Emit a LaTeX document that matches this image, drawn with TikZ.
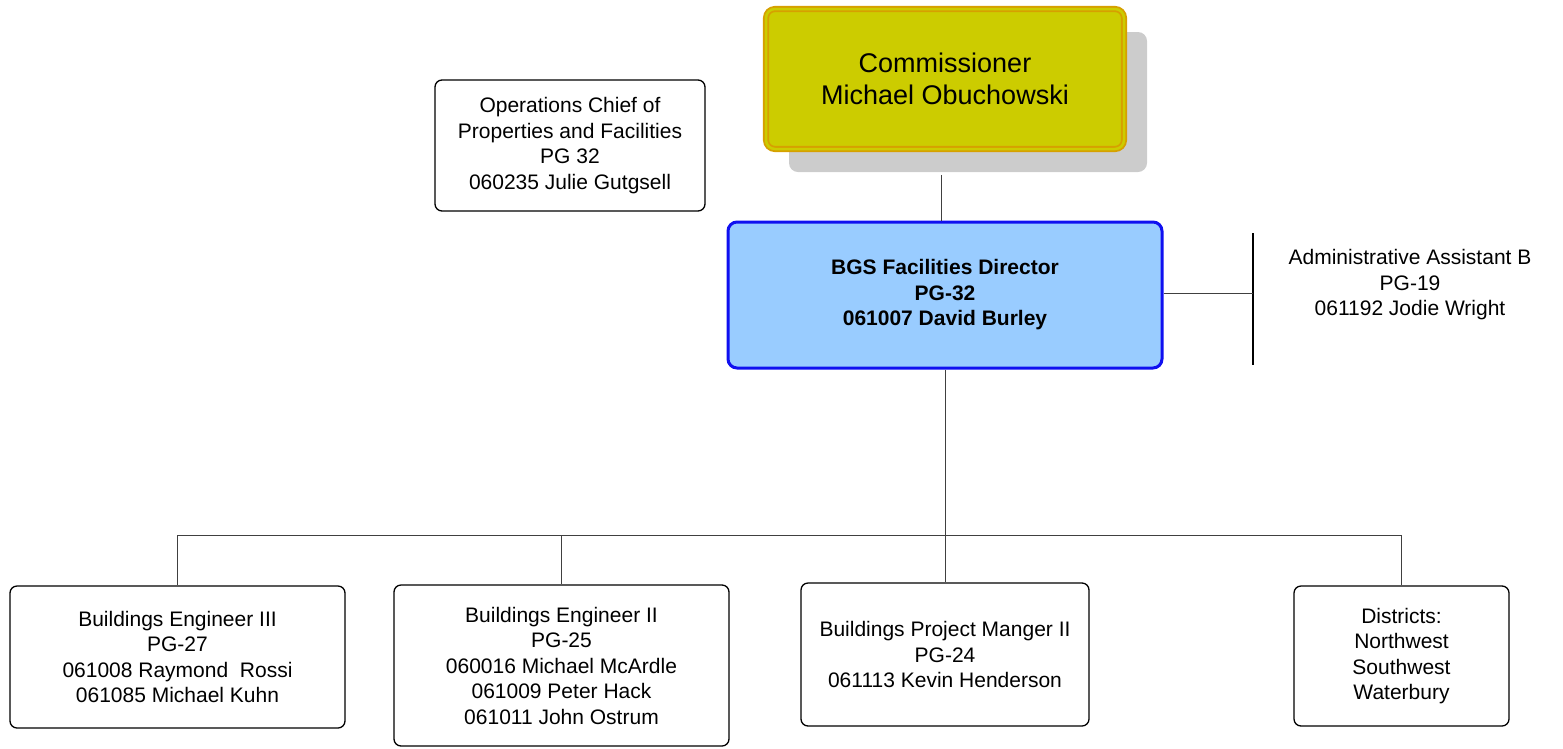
\documentclass[tikz,border=0pt]{standalone}
\usepackage{fontspec}
\setmainfont{Liberation Sans}
\usetikzlibrary{shadows}
\definecolor{commfill}{HTML}{CCCC00}
\definecolor{commdraw}{HTML}{D6A000}
\definecolor{shadowgray}{HTML}{CCCCCC}
\definecolor{dirfill}{HTML}{99CCFF}
\definecolor{dirdraw}{HTML}{1010F0}
\definecolor{linegray}{HTML}{404040}
\tikzset{
  box/.style={draw=black, line width=1.3pt, rounded corners=7pt, align=center, inner sep=0pt,
    font=\fontsize{21}{25.5}\selectfont},
  commbox/.style={draw=commdraw, fill=commfill, line width=1.8pt, double=commfill, double distance=2.5pt,
    rounded corners=9pt, align=center, inner sep=0pt, font=\fontsize{27}{32}\selectfont,
    drop shadow={shadow xshift=23pt, shadow yshift=-23pt, fill=shadowgray, opacity=1}},
  dirbox/.style={draw=dirdraw, fill=dirfill, line width=3pt, rounded corners=9pt, align=center,
    inner sep=0pt, font=\fontsize{21}{25.5}\selectfont\bfseries},
  plain/.style={align=center, inner sep=0pt, font=\fontsize{21}{25.5}\selectfont},
  conn/.style={draw=linegray, line width=1pt},
}
\begin{document}
\begin{tikzpicture}[x=1pt, y=-1pt]
\useasboundingbox (0,0) rectangle (1563,748);

\node[commbox, minimum width=358pt, minimum height=140pt] (comm) at (945,79)
  {Commissioner\\Michael Obuchowski};
\node[box, minimum width=270pt, minimum height=131pt] (ops) at (570,145.5)
  {Operations Chief of\\Properties and Facilities\\PG 32\\060235 Julie Gutgsell};
\node[dirbox, minimum width=434pt, minimum height=146pt] (dir) at (945,295)
  {BGS Facilities Director\\PG-32\\061007 David Burley};
\node[plain] (admin) at (1410,285)
  {Administrative Assistant B\\PG-19\\061192 Jodie Wright};
\coordinate (aTop) at (1253,233);
\coordinate (aBot) at (1253,365);

\node[box, minimum width=335pt, minimum height=142pt] (b1) at (177.5,657)
  {Buildings Engineer III\\PG-27\\061008 Raymond\ \ Rossi\\061085 Michael Kuhn};
\node[box, minimum width=335pt, minimum height=161pt] (b2) at (561.5,665.5)
  {Buildings Engineer II\\PG-25\\060016 Michael McArdle\\061009 Peter Hack\\061011 John Ostrum};
\node[box, minimum width=288pt, minimum height=143pt] (b3) at (945,654.5)
  {Buildings Project Manger II\\PG-24\\061113 Kevin Henderson};
\node[box, minimum width=215pt, minimum height=140pt] (b4) at (1401.5,656)
  {Districts:\\Northwest\\Southwest\\Waterbury};

% connectors
\draw[conn] ([xshift=-4pt, yshift=-25pt]comm.south) -- ([xshift=-4pt]dir.north);
\draw[line width=1.3pt] (aTop) -- (aBot);
\draw[conn] (dir.east |- 0,293) -- (aTop |- 0,293);
\coordinate (bus) at (945,535);
\draw[conn] (dir.south) -- (bus);
\draw[conn] (b1.north |- bus) -- (b4.north |- bus);
\draw[conn] (b1.north |- bus) -- (b1.north);
\draw[conn] (b2.north |- bus) -- (b2.north);
\draw[conn] (b3.north |- bus) -- (b3.north);
\draw[conn] (b4.north |- bus) -- (b4.north);
\end{tikzpicture}
\end{document}
